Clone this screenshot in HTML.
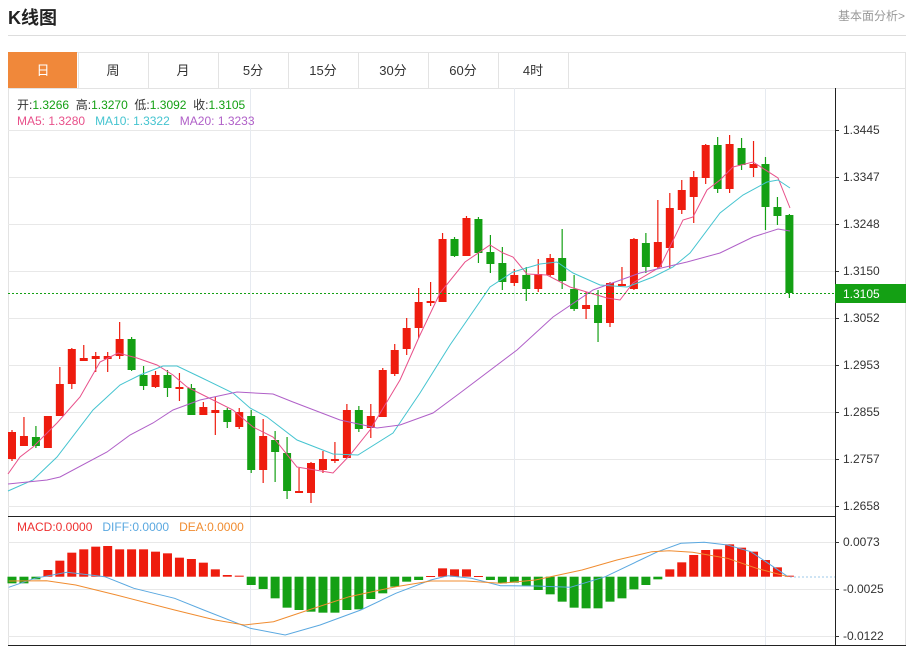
<!DOCTYPE html>
<html><head><meta charset="utf-8"><style>
body{margin:0;width:914px;height:648px;background:#fff;font-family:"Liberation Sans","Noto Sans CJK SC",sans-serif;overflow:hidden;position:relative}
.t{position:absolute}
</style></head><body>
<div class="t" style="left:8px;top:4px;font-size:18px;font-weight:bold;color:#222">K线图</div>
<div class="t" style="left:838px;top:7px;font-size:12px;color:#999">基本面分析&gt;</div>
<div class="t" style="left:8px;top:35px;width:898px;height:1px;background:#ddd"></div>
<svg class="t" style="left:0;top:0" width="914" height="648" id="s"></svg>
<script>
var s=document.getElementById('s'),h='';
function L(x1,y1,x2,y2,c,w,d){h+='<line x1="'+x1+'" y1="'+y1+'" x2="'+x2+'" y2="'+y2+'" stroke="'+c+'" stroke-width="'+(w||1)+'"'+(d?' stroke-dasharray="'+d+'"':'')+'/>';}
function R(x,y,w,hh,c){h+='<rect x="'+x+'" y="'+y+'" width="'+w+'" height="'+hh+'" fill="'+c+'"/>';}
function T(x,y,t,c,sz,a){h+='<text x="'+x+'" y="'+y+'" fill="'+c+'" font-size="'+(sz||12)+'"'+(a?' text-anchor="'+a+'"':'')+'>'+t+'</text>';}
function P(pts,c){h+='<polyline fill="none" stroke="'+c+'" stroke-width="1" points="'+pts+'"/>';}
// tabs
R(8,52,898,36,'#fff');h+='<rect x="8.5" y="52.5" width="897" height="36" fill="none" stroke="#e3e3e3"/>';
var tabs=['日','周','月','5分','15分','30分','60分','4时'];
for(var i=0;i<8;i++){var x=8+i*70;if(i==0)R(x,52,69,36,'#f0883a');L(x+70.5,52,x+70.5,88,'#e3e3e3');T(x+35,75,tabs[i],i==0?'#fff':'#333',13,'middle');}
// chart box
h+='<rect x="8.5" y="88.5" width="897" height="557" fill="none" stroke="#e3e3e3"/>';
var ticks=[[130,'1.3445'],[177,'1.3347'],[224,'1.3248'],[271,'1.3150'],[318,'1.3052'],[365,'1.2953'],[412,'1.2855'],[459,'1.2757'],[506,'1.2658']];
ticks.forEach(function(t){L(8,t[0]+.5,835,t[0]+.5,'#e8e8e8');L(835,t[0]+.5,839,t[0]+.5,'#333');T(843,t[0]+4,t[1],'#333',12);});
[542,589,636].forEach(function(y){L(8,y+.5,835,y+.5,'#e8e8e8');});
[250,514,765].forEach(function(x){L(x+.5,88,x+.5,645,'#e6eaf0');});
L(8,516.5,835,516.5,'#222');L(835.5,88,835.5,645,'#222');L(8,645.5,906,645.5,'#222');
T(843,546,'0.0073','#333');T(843,593,'-0.0025','#333');T(843,640,'-0.0122','#333');
L(835,542.5,839,542.5,'#333');L(835,589.5,839,589.5,'#333');L(835,636.5,839,636.5,'#333');
// candles [wt,wb,bt,bb,up]
var c=[[430,461,432,459,1],[417,446,436,446,1],[426,448,437,446,0],[416,448,416,448,1],[367,416,384,416,1],[348,389,349,384,1],[345,361,358,361,1],[352,372,356,359,1],[352,372,356,359,1],[322,359,339,356,1],[337,371,339,370,0],[366,390,375,386,0],[371,388,375,387,1],[370,397,375,388,0],[373,401,387,389,1],[384,415,388,415,0],[402,415,407,415,1],[397,435,410,413,1],[408,428,410,422,0],[408,429,412,427,1],[410,473,416,470,0],[419,483,436,470,1],[431,482,440,452,0],[437,499,453,491,0],[468,493,491,493,1],[462,503,463,493,1],[451,473,459,470,1],[442,463,459,461,1],[404,458,410,458,1],[406,432,410,429,0],[404,438,416,428,1],[368,417,370,417,1],[344,376,350,374,1],[318,355,328,349,1],[288,338,302,328,1],[282,306,301,303,1],[233,302,239,302,1],[237,257,239,256,0],[216,256,218,256,1],[217,263,219,253,0],[235,273,252,264,0],[247,290,263,282,0],[269,286,275,283,1],[267,301,275,289,0],[259,292,274,289,1],[254,277,258,275,1],[229,289,258,281,0],[275,311,289,309,0],[292,319,305,309,1],[290,342,305,323,0],[282,327,283,323,1],[267,286,284,286,1],[238,290,239,289,1],[233,273,243,267,0],[200,269,242,267,1],[193,268,208,248,1],[180,214,190,210,1],[171,223,177,197,1],[144,184,145,178,1],[137,193,145,189,0],[135,193,144,189,1],[138,170,148,165,0],[141,177,164,168,1],[157,230,164,207,0],[197,225,207,216,0],[214,298,215,293,0]];
c.forEach(function(d,i){var x=12+i*11.96,col=d[4]?'#ee1c0e':'#14a014';L(x,d[0],x,d[1],col,1.2);R(x-4,d[2],8,Math.max(2,d[3]-d[2]),col);});
// MA lines
P('8,474 20,457 33,447 57,423 80,397 100,362 118,353 137,358 157,365 173,375 187,387 207,397 233,410 253,427 273,437 297,467 333,473 350,455 370,430 400,380 420,335 440,293 465,262 490,245 503,253 513,257 527,274 547,275 570,287 607,298 620,300 633,283 660,267 683,220 693,217 707,190 720,180 733,167 753,162 778,178 790,208','#e8508a');
P('8,491 33,480 57,457 93,410 120,385 140,375 163,366 177,366 200,377 233,393 250,408 267,417 297,440 333,454 358,455 393,433 420,393 450,345 490,287 513,272 540,264 557,262 573,273 600,285 627,287 653,277 673,267 690,253 720,213 743,195 767,182 778,180 790,188','#45c4d0');
P('8,484 47,480 60,477 107,452 130,435 153,423 173,410 200,400 237,392 273,394 293,402 340,420 377,428 400,425 433,413 460,393 517,350 553,317 593,290 640,273 687,262 720,253 753,237 778,229 790,231','#b060c8');
// current price
L(8,293.5,835,293.5,'#14a014',1,'2,2');R(835,284,71,19,'#14a014');T(843,298,'1.3105','#fff',12);
// MACD
var m=[220,220,208,180,152,128,118,110,108,118,118,118,125,130,143,147,158,178,195,197,225,237,265,293,300,305,308,308,300,298,267,250,230,215,210,198,175,178,178,198,210,220,218,228,240,253,275,293,295,295,275,265,238,225,208,178,157,135,120,118,103,113,125,150,172,197];
var z=576.7;
m.forEach(function(v,i){var x=12+i*11.96,y=510+v/3;R(x-4.5,Math.min(y,z),9,Math.max(1,Math.abs(y-z)),v<200?'#ee1c0e':'#14a014');});
function mp(a){return a.map(function(p){return (p[0]*0.582).toFixed(1)+','+(510+p[1]/3).toFixed(1)}).join(' ');}
P(mp([[15,232],[60,205],[115,187],[180,200],[230,235],[300,265],[350,300],[430,355],[490,375],[550,345],[620,300],[680,250],[740,210],[770,197],[810,205],[860,227],[920,228],[980,232],[1040,200],[1100,150],[1130,125],[1170,100],[1210,97],[1250,105],[1290,125],[1320,160],[1354,200]]),'#5aa8e0');
P(mp([[15,213],[80,212],[130,225],[200,255],[300,300],[370,330],[420,345],[470,335],[530,300],[600,260],[680,230],[740,213],[800,213],[860,220],[920,210],[1000,180],[1060,150],[1120,125],[1150,122],[1190,127],[1250,145],[1300,175],[1354,200]]),'#f08c30');
L(790,577,835,577,'#9cc8e8',1,'2,2');
s.innerHTML=h;
</script>
<div class="t" style="left:17px;top:96px;font-size:12px;color:#333">开:<span style="color:#14a014">1.3266</span>&nbsp; 高:<span style="color:#14a014">1.3270</span>&nbsp; 低:<span style="color:#14a014">1.3092</span>&nbsp; 收:<span style="color:#14a014">1.3105</span></div>
<div class="t" style="left:17px;top:114px;font-size:12px"><span style="color:#e8508a">MA5: 1.3280</span>&nbsp;&nbsp; <span style="color:#45c4d0">MA10: 1.3322</span>&nbsp;&nbsp; <span style="color:#b060c8">MA20: 1.3233</span></div>
<div class="t" style="left:17px;top:520px;font-size:12px"><span style="color:#ee3030">MACD:0.0000</span>&nbsp;&nbsp; <span style="color:#5aa8e0">DIFF:0.0000</span>&nbsp;&nbsp; <span style="color:#f08c30">DEA:0.0000</span></div>
</body></html>
